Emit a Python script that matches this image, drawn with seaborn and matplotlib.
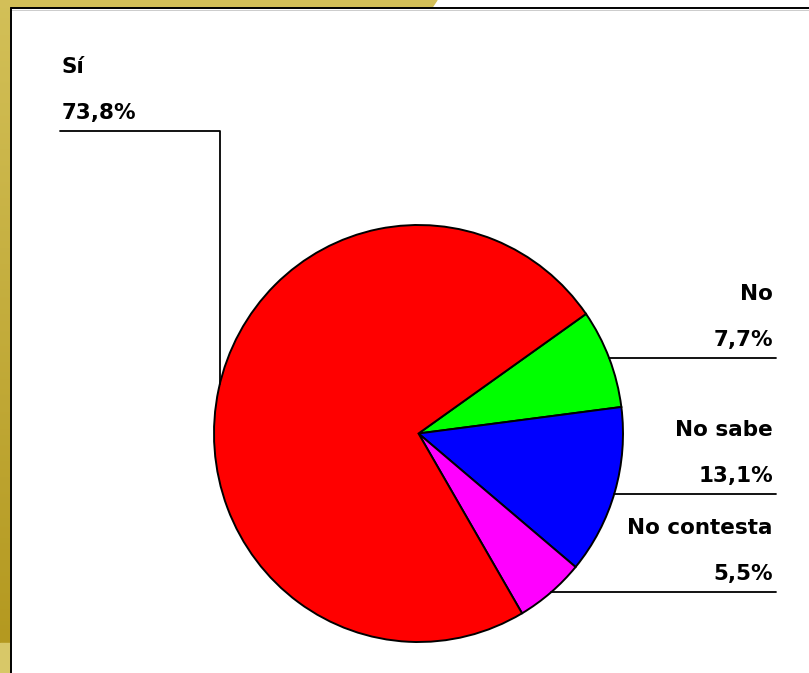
import seaborn as sns
import numpy as np
import matplotlib.pyplot as plt
from matplotlib.patches import Polygon, Rectangle

# data
labels = ["No", "No sabe", "No contesta", "Sí"]
values = [7.7, 13.1, 5.5, 73.8]
pct_labels = ["7,7%", "13,1%", "5,5%", "73,8%"]
colors = ["#00FF00", "#0000FF", "#FF00FF", "#FF0000"]

sns.set_theme(style="white")
plt.rcParams['font.family'] = ['DejaVu Sans']
plt.rcParams['text.color'] = 'black'

W, H = 809, 673
fig = plt.figure(figsize=(W / 100, H / 100), dpi=100)
fig.patch.set_facecolor("white")

# background frame (pixel coordinates)
bg = fig.add_axes([0, 0, 1, 1])
bg.set_xlim(0, W)
bg.set_ylim(H, 0)
bg.axis("off")
grad = np.linspace(0, 1, 256)[:, None]
c_top = np.array([0.827, 0.753, 0.345])
c_bot = np.array([0.706, 0.600, 0.125])
img = (c_top[None, None, :] * (1 - grad[..., None]) + c_bot[None, None, :] * grad[..., None])
img = np.repeat(img, 2, axis=1)
bg.imshow(img, extent=[0, 10, 643, 0], aspect="auto", zorder=1)
bg.add_patch(Rectangle((0, 643), 10, 30, color="#D8C868", zorder=1))
bg.add_patch(Polygon([(0, 0), (437, 0), (432, 7.5), (0, 7.5)], color="#D3BF58", zorder=1))
bg.plot([11.5, W], [8.2, 8.2], color="black", lw=1.4, zorder=3)
bg.plot([11.5, W], [9.8, 9.8], color="#cccccc", lw=0.7, zorder=2)
bg.plot([11.5, 11.5], [8.2, H], color="black", lw=1.4, zorder=3)
bg.set_xlim(0, W)
bg.set_ylim(H, 0)

# pie axes placed over the pie box
x0, x1, y0, y1 = 214, 623, 225, 642
ax = fig.add_axes([x0 / W, 1 - y1 / H, (x1 - x0) / W, (y1 - y0) / H])
wedges, _ = ax.pie(values, colors=colors, startangle=35, counterclock=False,
                   wedgeprops=dict(edgecolor="black", linewidth=1.4))
ax.set_aspect("auto")
ax.set_xlim(-1, 1)
ax.set_ylim(-1, 1)

# leader lines and labels (data coords of the pie axes)
right_end = 1.748
text_x = 1.733
line_y = {"No": 0.362, "No sabe": -0.290, "No contesta": -0.760}
txt = dict(fontsize=15.5, fontweight="bold", color="black", va="baseline",
           textcoords="offset pixels", annotation_clip=False)
for lab, pct in zip(labels[:3], pct_labels[:3]):
    y = line_y[lab]
    xe = np.sqrt(1 - y ** 2)
    ax.plot([xe, right_end], [y, y], color="black", lw=1.3, clip_on=False)
    ax.annotate(pct, (text_x, y), xytext=(0, 12), ha="right", **txt)
    ax.annotate(lab, (text_x, y), xytext=(0, 58), ha="right", **txt)

# Sí label on the left
ys = 1.451
xv = -0.971
yv = np.sqrt(1 - xv ** 2)
ax.plot([-1.753, xv, xv], [ys, ys, yv], color="black", lw=1.3, clip_on=False)
ax.annotate(pct_labels[3], (-1.745, ys), xytext=(0, 12), ha="left", **txt)
ax.annotate(labels[3], (-1.745, ys), xytext=(0, 58), ha="left", **txt)

plt.savefig("out.png", dpi=100)
